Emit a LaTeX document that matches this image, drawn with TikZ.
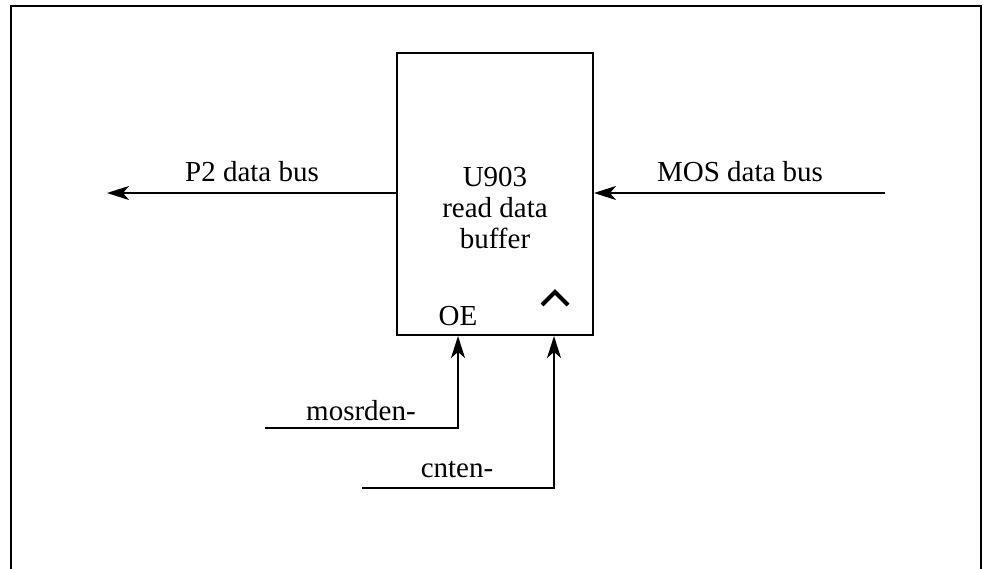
\documentclass[tikz,border=0pt]{standalone}
\usepackage{fontspec}
\setmainfont{Liberation Serif}
\usetikzlibrary{arrows.meta}
\begin{document}
\begin{tikzpicture}[x=1pt,y=-1pt,
  lbl/.style={inner sep=0pt,font=\fontsize{29}{33}\selectfont},
  wire/.style={line width=2pt},
  arr/.style={wire,-{Stealth[length=22pt,width=14pt,inset=6pt]}}]
\useasboundingbox (0,0) rectangle (983,569);
\draw[line width=2.4pt] (11,569) -- (11,6) -- (981,6) -- (981,569);
\node[draw,line width=2pt,minimum width=196pt,minimum height=282pt,inner sep=0pt] (buf) at (495,194) {};
\node[lbl,align=center] (t) at (495,208) {U903\\[-2pt]read data\\[-2pt]buffer};
\node[lbl] (oe) at (458,316) {OE};
\draw[line width=4pt,line join=miter] (542,305) -- (555,292) -- (568,305);
\coordinate (p2) at (107,193);
\coordinate (mos) at (885,193);
\draw[arr] (buf.west |- p2) -- (p2);
\draw[arr] (mos) -- (buf.east |- mos);
\node[lbl] (p2l) at (252,172) {P2 data bus};
\node[lbl] (mosl) at (740,172) {MOS data bus};
\coordinate (m0) at (265,428);
\coordinate (m1) at (458,428);
\draw[arr] (m0) -- (m1) -- (m1 |- buf.south);
\node[lbl] (ml) at (361,411) {mosrden-};
\coordinate (c0) at (362,488);
\coordinate (c1) at (554,488);
\draw[arr] (c0) -- (c1) -- (c1 |- buf.south);
\node[lbl] (cl) at (457,469) {cnten-};
\end{tikzpicture}
\end{document}
